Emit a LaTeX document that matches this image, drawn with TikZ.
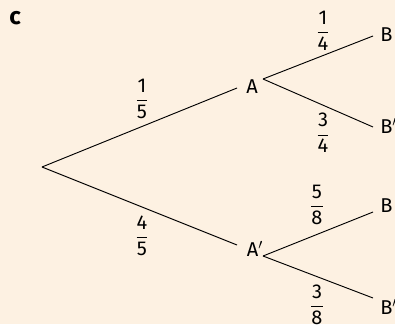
\documentclass[tikz,border=0pt]{standalone}
\usepackage{amsmath}
\usepackage{fontspec}
\setmainfont{Fira Sans}
\definecolor{paper}{HTML}{FDF1E2}

\begin{document}
\begin{tikzpicture}[x=0.75pt, y=-0.75pt, font=\fontsize{15}{17}\selectfont,
		branch/.style={line width=0.7pt},
		prob/.style={inner sep=0pt},
		event/.style={inner sep=0pt, anchor=west}]
	\fill[paper] (0,0) rectangle (395,324);
	\useasboundingbox (0,0) rectangle (395,324);
	\node (c) at (15,18) {\fontsize{18}{20}\selectfont\bfseries c};
	% ---- first stage ----
	\coordinate (root) at (42,167);
	\node[inner sep=0pt] (A) at (252,87) {A};
	\node[inner sep=0pt] (A2) at (255,249) {A$'$};
	\coordinate (Ain) at (237,88);
	\coordinate (A2in) at (237,245);
	\draw[branch] (root) -- (Ain);
	\draw[branch] (root) -- (A2in);
	\node[prob] (p1) at (142,99) {$\dfrac{\text{1}}{\text{5}}$};
	\node[prob] (p2) at (142,236) {$\dfrac{\text{4}}{\text{5}}$};
	% ---- second stage ----
	\coordinate (Aout) at (263,79);
	\coordinate (A2out) at (263,256);
	\node[event] (B1) at (380,35) {B};
	\node[event] (B2) at (380,126) {B$'$};
	\node[event] (B3) at (380,206) {B};
	\node[event] (B4) at (380,307) {B$'$};
	\foreach \from/\to/\y in {Aout/B1/36, Aout/B2/127, A2out/B3/212, A2out/B4/298} {
		\coordinate (\to end) at (373,\y);
		\draw[branch] (\from) -- (\to end);
	}
	\node[prob] (q1) at (323,31) {$\dfrac{\text{1}}{\text{4}}$};
	\node[prob] (q2) at (323,133) {$\dfrac{\text{3}}{\text{4}}$};
	\node[prob] (q3) at (317,205) {$\dfrac{\text{5}}{\text{8}}$};
	\node[prob] (q4) at (317,305) {$\dfrac{\text{3}}{\text{8}}$};
\end{tikzpicture}
\end{document}
